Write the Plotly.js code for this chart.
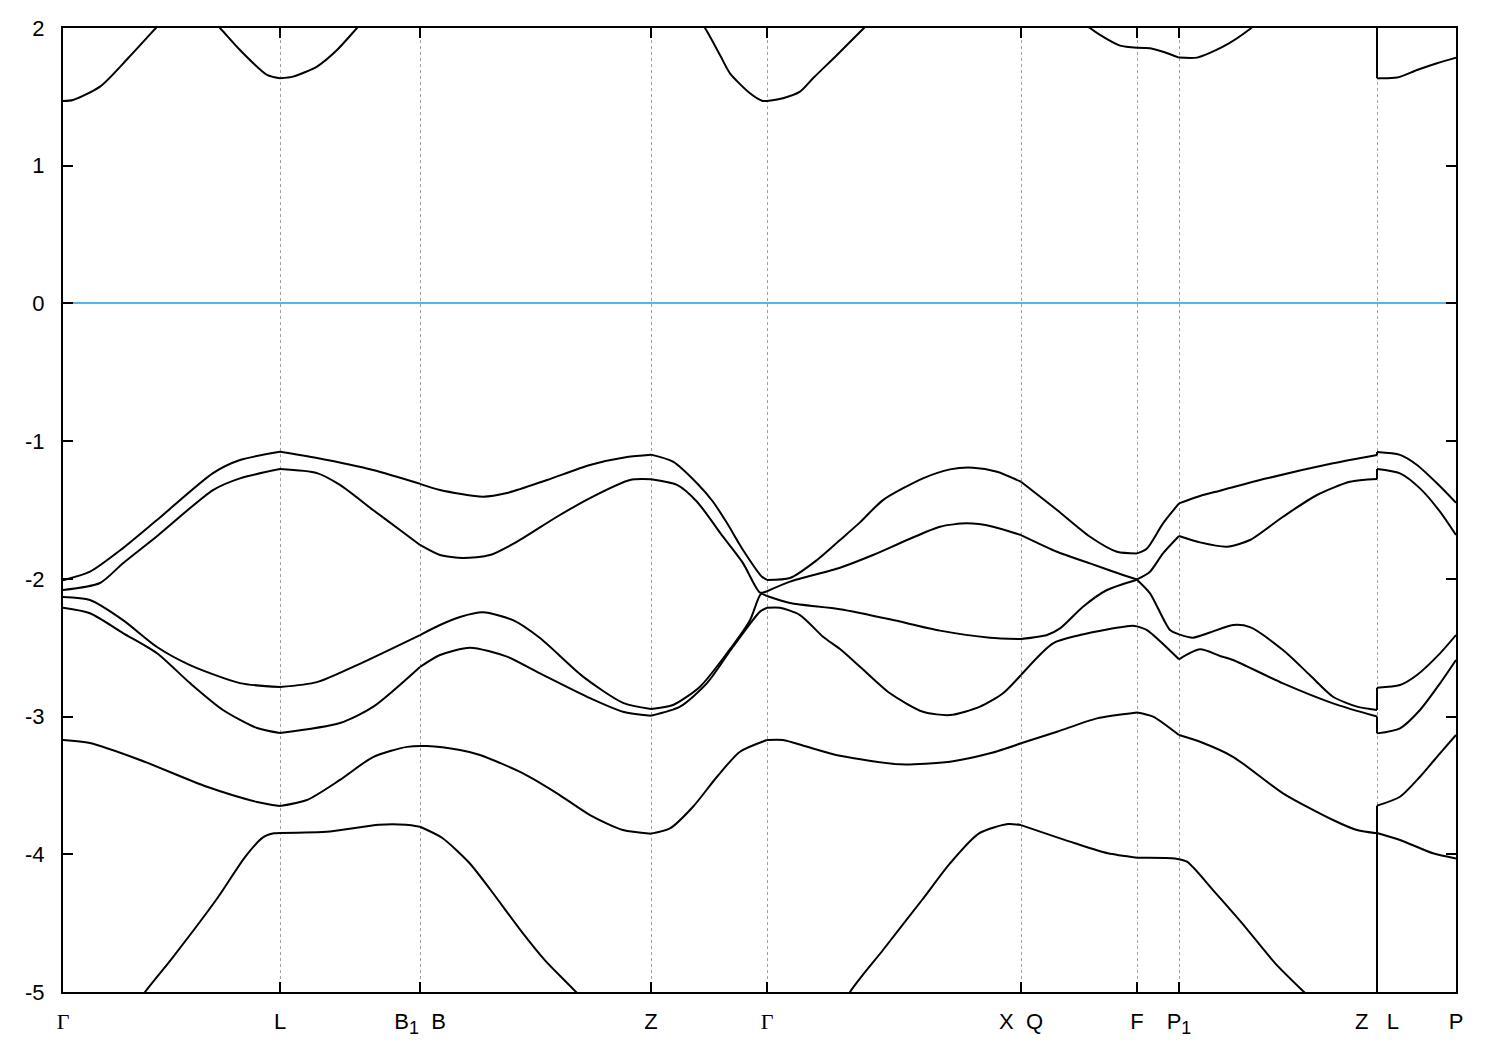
<!DOCTYPE html>
<html>
<head>
<meta charset="utf-8">
<script src="https://cdn.plot.ly/plotly-3.0.1.min.js"></script>
<style>html,body{margin:0;padding:0;background:#fff;}#chart{width:1500px;height:1050px;}</style>
</head>
<body>
<div id="chart"></div>
<script>
// High-symmetry points along the k-path
const kTicks = [0, 2.17, 3.57, 5.88, 7.04, 9.58, 10.74, 11.16, 13.14, 13.93];
const kLabels = ["Γ", "L", "B<sub>1</sub>\u00A0\u00A0B", "Z", "Γ", "X\u00A0\u00A0Q", "F", "P<sub>1</sub>", "Z\u00A0\u00A0\u00A0L", "P"];
const eTicks = [-5, -4, -3, -2, -1, 0, 1, 2];
const eLabels = ["-5", "-4", "-3", "-2", "-1", "0", "1", "2"];

// Bands as [k, E(eV)] pairs
const conduction = [[0,1.47],[0.10,1.477],[0.37,1.574],[0.65,1.78],[0.92,1.993],[1.24,2.25],[1.57,2.0],[1.77,1.84],[2.04,1.659],[2.17,1.635],[2.30,1.647],[2.54,1.72],[2.74,1.84],[2.94,2.0],[3.37,2.35],[4.37,2.6],[5.88,2.55],[6.27,2.15],[6.42,2.0],[6.57,1.804],[6.67,1.671],[6.87,1.526],[6.99,1.472],[7.04,1.47],[7.20,1.49],[7.37,1.538],[7.50,1.635],[7.74,1.804],[8.00,1.993],[8.22,2.15],[8.97,2.45],[9.97,2.2],[10.17,2.06],[10.27,2.0],[10.37,1.95],[10.57,1.872],[10.74,1.857],[10.87,1.853],[11.00,1.828],[11.16,1.785],[11.34,1.785],[11.60,1.864],[11.87,1.993],[12.07,2.12],[13.14,2.5],[13.14,1.635],[13.34,1.64],[13.54,1.695],[13.74,1.744],[13.93,1.784]];

const valence1 = [[0,-2.01],[0.27,-1.948],[0.60,-1.777],[0.94,-1.573],[1.50,-1.232],[1.77,-1.137],[2.17,-1.077],[2.54,-1.123],[3.10,-1.21],[3.57,-1.31],[3.77,-1.355],[4.20,-1.403],[4.44,-1.377],[4.84,-1.282],[5.27,-1.173],[5.64,-1.115],[5.88,-1.098],[6.10,-1.149],[6.34,-1.306],[6.50,-1.44],[6.64,-1.595],[6.80,-1.79],[6.99,-1.985],[7.04,-2.008],[7.27,-1.994],[7.54,-1.863],[7.77,-1.718],[7.97,-1.59],[8.20,-1.428],[8.60,-1.27],[8.87,-1.205],[9.10,-1.193],[9.34,-1.222],[9.58,-1.295],[9.94,-1.50],[10.27,-1.694],[10.54,-1.803],[10.74,-1.815],[10.84,-1.779],[11.00,-1.597],[11.16,-1.452],[11.37,-1.398],[11.57,-1.36],[12.04,-1.27],[12.70,-1.161],[13.14,-1.10],[13.14,-1.079],[13.37,-1.10],[13.54,-1.173],[13.74,-1.306],[13.93,-1.447]];

const valence2 = [[0,-2.081],[0.37,-2.03],[0.60,-1.886],[0.94,-1.69],[1.50,-1.355],[1.77,-1.27],[2.17,-1.203],[2.54,-1.232],[2.77,-1.318],[3.10,-1.50],[3.37,-1.645],[3.57,-1.754],[3.77,-1.827],[4.00,-1.849],[4.27,-1.827],[4.54,-1.73],[4.94,-1.549],[5.27,-1.413],[5.67,-1.282],[5.88,-1.277],[6.14,-1.318],[6.34,-1.44],[6.60,-1.694],[6.80,-1.886],[6.97,-2.10],[7.04,-2.09],[7.27,-2.02],[7.77,-1.919],[8.10,-1.827],[8.44,-1.718],[8.77,-1.621],[9.04,-1.597],[9.30,-1.621],[9.58,-1.682],[9.94,-1.803],[10.27,-1.888],[10.60,-1.972],[10.74,-2.004],[10.87,-1.948],[11.00,-1.815],[11.16,-1.689],[11.37,-1.735],[11.64,-1.766],[11.87,-1.718],[12.20,-1.549],[12.54,-1.391],[12.87,-1.295],[13.14,-1.275],[13.14,-1.202],[13.37,-1.234],[13.57,-1.343],[13.77,-1.512],[13.93,-1.682]];

const valence3 = [[0,-2.132],[0.27,-2.154],[0.60,-2.30],[0.94,-2.495],[1.27,-2.626],[1.77,-2.757],[2.17,-2.786],[2.54,-2.75],[2.94,-2.626],[3.57,-2.408],[3.77,-2.335],[3.97,-2.277],[4.20,-2.243],[4.50,-2.30],[4.77,-2.43],[5.20,-2.71],[5.60,-2.90],[5.88,-2.945],[6.10,-2.916],[6.37,-2.783],[6.64,-2.54],[6.87,-2.30],[6.98,-2.11],[7.04,-2.125],[7.27,-2.176],[7.77,-2.221],[8.27,-2.294],[8.77,-2.376],[9.27,-2.427],[9.58,-2.437],[9.84,-2.408],[9.97,-2.36],[10.20,-2.202],[10.44,-2.081],[10.74,-2.006],[10.87,-2.105],[11.07,-2.372],[11.16,-2.403],[11.30,-2.427],[11.47,-2.39],[11.70,-2.335],[11.87,-2.35],[12.20,-2.517],[12.47,-2.70],[12.70,-2.856],[12.94,-2.928],[13.14,-2.952],[13.14,-2.79],[13.37,-2.771],[13.54,-2.698],[13.77,-2.541],[13.93,-2.408]];

const valence4 = [[0,-2.21],[0.27,-2.25],[0.60,-2.394],[0.94,-2.54],[1.27,-2.757],[1.60,-2.952],[1.94,-3.083],[2.17,-3.12],[2.77,-3.047],[3.10,-2.93],[3.57,-2.64],[3.77,-2.553],[4.07,-2.50],[4.44,-2.565],[4.77,-2.686],[5.27,-2.866],[5.60,-2.965],[5.88,-2.994],[6.17,-2.928],[6.44,-2.757],[6.70,-2.493],[6.97,-2.238],[7.04,-2.21],[7.17,-2.21],[7.37,-2.263],[7.60,-2.42],[7.77,-2.51],[7.97,-2.638],[8.27,-2.831],[8.60,-2.965],[8.87,-2.989],[9.17,-2.928],[9.40,-2.831],[9.58,-2.698],[9.90,-2.468],[10.17,-2.408],[10.44,-2.367],[10.70,-2.34],[10.74,-2.345],[10.84,-2.372],[11.16,-2.584],[11.37,-2.512],[11.57,-2.56],[11.70,-2.589],[12.20,-2.759],[12.70,-2.904],[13.14,-3.0],[13.14,-3.122],[13.37,-3.085],[13.57,-2.952],[13.77,-2.759],[13.93,-2.589]];

const valence5 = [[0,-3.17],[0.27,-3.192],[0.77,-3.315],[1.44,-3.51],[1.94,-3.62],[2.17,-3.65],[2.44,-3.606],[2.77,-3.46],[3.10,-3.294],[3.44,-3.22],[3.64,-3.214],[3.97,-3.243],[4.17,-3.279],[4.60,-3.412],[4.94,-3.557],[5.27,-3.715],[5.60,-3.824],[5.88,-3.85],[6.07,-3.812],[6.30,-3.655],[6.54,-3.437],[6.77,-3.255],[7.04,-3.17],[7.20,-3.17],[7.44,-3.219],[7.77,-3.285],[8.37,-3.347],[8.87,-3.328],[9.27,-3.267],[9.58,-3.194],[9.94,-3.11],[10.34,-3.013],[10.74,-2.97],[10.90,-3.0],[11.16,-3.134],[11.37,-3.183],[11.70,-3.292],[12.20,-3.557],[12.70,-3.751],[12.94,-3.824],[13.14,-3.848],[13.14,-3.647],[13.37,-3.582],[13.57,-3.437],[13.77,-3.267],[13.93,-3.134]];

const valence6 = [[0,-5.8],[0.82,-5.0],[1.10,-4.746],[1.55,-4.312],[1.82,-4.02],[2.00,-3.877],[2.11,-3.848],[2.17,-3.845],[2.67,-3.834],[3.16,-3.786],[3.43,-3.786],[3.57,-3.80],[3.79,-3.88],[4.06,-4.06],[4.28,-4.263],[4.59,-4.565],[4.82,-4.77],[5.13,-5.0],[5.88,-5.6],[7.04,-6.1],[7.87,-5.0],[8.20,-4.695],[8.59,-4.332],[8.87,-4.066],[9.16,-3.848],[9.45,-3.78],[9.58,-3.788],[10.12,-3.92],[10.45,-3.993],[10.74,-4.025],[11.12,-4.03],[11.24,-4.054],[11.50,-4.26],[11.79,-4.50],[12.12,-4.79],[12.41,-5.0],[13.14,-5.5],[13.14,-3.845],[13.37,-3.896],[13.70,-3.993],[13.93,-4.03]];

const bands = [conduction, valence1, valence2, valence3, valence4, valence5, valence6];

// Split each band into path pieces at the high-symmetry points so that
// kinks there stay sharp; a repeated k (the Z|L break) gets a straight jump.
const traces = [];
const lineStyle = {color: '#000000', width: 2};
function pushSeg(seg, shape) {
  traces.push({x: seg.map(q => q[0]), y: seg.map(q => q[1]), type: 'scatter', mode: 'lines',
    line: Object.assign({shape: shape, smoothing: shape === 'spline' ? 0.7 : undefined}, lineStyle),
    hoverinfo: 'skip', showlegend: false});
}
bands.forEach(b => {
  let seg = [b[0]];
  for (let i = 1; i < b.length; i++) {
    const p = b[i];
    if (p[0] === b[i - 1][0]) {
      pushSeg(seg, 'spline');
      pushSeg([b[i - 1], p], 'linear');
      seg = [p];
      continue;
    }
    seg.push(p);
    if (kTicks.includes(p[0]) && i < b.length - 1 && b[i + 1][0] !== p[0]) {
      pushSeg(seg, 'spline');
      seg = [p];
    }
  }
  if (seg.length > 1) pushSeg(seg, 'spline');
});

const tickFont = {family: '"Liberation Sans", Arial, sans-serif', size: 22, color: '#000'};
const styledLabels = kLabels.map(t => t === 'Γ'
  ? '<span style="font-family:\'Liberation Serif\', serif">Γ</span>'
  : t.replace('<sub>1</sub>', '<sub><span style="font-size:18px">1</span></sub>'));

const layout = {
  width: 1500, height: 1050,
  margin: {l: 63, r: 44, t: 28, b: 58, pad: 0},
  paper_bgcolor: '#fff', plot_bgcolor: '#fff',
  showlegend: false,
  xaxis: {
    range: [kTicks[0], kTicks[kTicks.length - 1]],
    tickmode: 'array', tickvals: kTicks, ticktext: styledLabels,
    ticks: 'inside', ticklen: 10, tickwidth: 2, tickcolor: '#000',
    showline: true, linecolor: '#000', linewidth: 2, mirror: 'ticks',
    showgrid: true, gridcolor: '#a0a0a0', gridwidth: 1, griddash: '3px,3px',
    zeroline: false, tickfont: tickFont, ticklabelstandoff: 9
  },
  yaxis: {
    range: [-5, 2],
    tickmode: 'array', tickvals: eTicks, ticktext: eLabels,
    ticks: 'inside', ticklen: 10, tickwidth: 2, tickcolor: '#000',
    showline: true, linecolor: '#000', linewidth: 2, mirror: 'ticks',
    showgrid: false,
    zeroline: true, zerolinecolor: '#56b4e9', zerolinewidth: 2,
    tickfont: tickFont, ticklabelstandoff: 12
  }
};

Plotly.newPlot('chart', traces, layout, {staticPlot: true, displayModeBar: false});
</script>
</body>
</html>
